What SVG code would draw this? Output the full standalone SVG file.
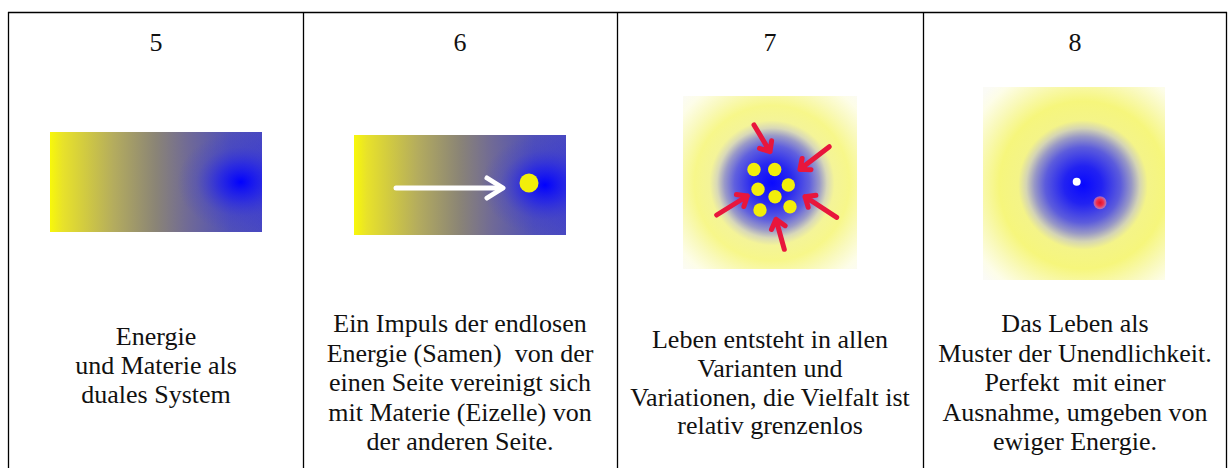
<svg xmlns="http://www.w3.org/2000/svg" width="1231" height="468" viewBox="0 0 1231 468">
  <style>
    .t { font-family: "Liberation Serif", "Times New Roman", serif; font-size: 26px; fill: #111; text-anchor: middle; }
    .grid { stroke: #000; stroke-width: 1.3; fill: none; }
    .red { stroke: #e8163c; stroke-width: 5; fill: none; stroke-linecap: round; stroke-linejoin: round; }
    .dot { fill: #f2ee0a; }
  </style>
  <defs>
    <linearGradient id="lin" x1="0" y1="0" x2="1" y2="0">
      <stop offset="0" stop-color="#f8f80a"/>
      <stop offset="0.06" stop-color="#e8e22a"/>
      <stop offset="0.3" stop-color="#b4ac5e"/>
      <stop offset="0.5" stop-color="#8a8476"/>
      <stop offset="0.65" stop-color="#706a96"/>
      <stop offset="0.85" stop-color="#5050b8"/>
      <stop offset="1" stop-color="#4848c2"/>
    </linearGradient>
    <radialGradient id="blueSpot" gradientUnits="objectBoundingBox" cx="0.9" cy="0.5" r="0.5" fx="0.9" fy="0.5" gradientTransform="translate(0.9,0.5) scale(0.6,1) translate(-0.9,-0.5)">
      <stop offset="0" stop-color="#0000ff" stop-opacity="1"/>
      <stop offset="0.35" stop-color="#1818f4" stop-opacity="0.65"/>
      <stop offset="0.7" stop-color="#3030e0" stop-opacity="0.2"/>
      <stop offset="1" stop-color="#3030e0" stop-opacity="0"/>
    </radialGradient>
    <radialGradient id="glow7" gradientUnits="userSpaceOnUse" cx="772" cy="183" r="125">
      <stop offset="0" stop-color="#0a0aff"/>
      <stop offset="0.16" stop-color="#2828f0"/>
      <stop offset="0.3" stop-color="#6060de"/>
      <stop offset="0.38" stop-color="#9a9ac8"/>
      <stop offset="0.44" stop-color="#d8d8b8"/>
      <stop offset="0.5" stop-color="#f4f498"/>
      <stop offset="0.62" stop-color="#f7f78a"/>
      <stop offset="0.76" stop-color="#f9f9bc"/>
      <stop offset="0.9" stop-color="#fdfde8"/>
      <stop offset="1" stop-color="#fbfbf6"/>
    </radialGradient>
    <radialGradient id="glow8" gradientUnits="userSpaceOnUse" cx="1083" cy="185" r="135">
      <stop offset="0" stop-color="#0808ff"/>
      <stop offset="0.14" stop-color="#2222f2"/>
      <stop offset="0.28" stop-color="#5c5cdc"/>
      <stop offset="0.36" stop-color="#9898c6"/>
      <stop offset="0.42" stop-color="#d4d4b4"/>
      <stop offset="0.48" stop-color="#f4f488"/>
      <stop offset="0.62" stop-color="#f6f67c"/>
      <stop offset="0.78" stop-color="#f9f9b8"/>
      <stop offset="0.92" stop-color="#fdfde8"/>
      <stop offset="1" stop-color="#fbfbf6"/>
    </radialGradient>
    <radialGradient id="redDot">
      <stop offset="0" stop-color="#e0102a"/>
      <stop offset="0.55" stop-color="#f03050"/>
      <stop offset="1" stop-color="#f890a0" stop-opacity="0.6"/>
    </radialGradient>
  </defs>

  <g id="table" class="grid">
    <line x1="8" y1="12.5" x2="1227" y2="12.5"/>
    <line x1="8.5" y1="12" x2="8.5" y2="468"/>
    <line x1="303.5" y1="12" x2="303.5" y2="468"/>
    <line x1="617.5" y1="12" x2="617.5" y2="468"/>
    <line x1="923.5" y1="12" x2="923.5" y2="468"/>
    <line x1="1226.5" y1="12" x2="1226.5" y2="468"/>
  </g>

  <g id="cell5">
    <text class="t" x="156" y="51">5</text>
    <rect x="50" y="132" width="212" height="100" fill="url(#lin)"/>
    <rect x="50" y="132" width="212" height="100" fill="url(#blueSpot)"/>
    <text class="t" x="156" y="345">Energie</text>
    <text class="t" x="156" y="374">und Materie als</text>
    <text class="t" x="156" y="403">duales System</text>
  </g>

  <g id="cell6">
    <text class="t" x="460" y="51">6</text>
    <rect x="354" y="135" width="212" height="100" fill="url(#lin)"/>
    <rect x="354" y="135" width="212" height="100" fill="url(#blueSpot)"/>
    <g stroke="#ffffff" stroke-width="5" stroke-linecap="round" stroke-linejoin="round" fill="none">
      <line x1="396" y1="188" x2="502" y2="188"/>
      <polyline points="487,178 503,188 487,198"/>
    </g>
    <circle class="dot" cx="529" cy="183" r="9.5"/>
    <text class="t" x="460" y="332">Ein Impuls der endlosen</text>
    <text class="t" x="460" y="361.5" xml:space="preserve">Energie (Samen)  von der</text>
    <text class="t" x="460" y="391">einen Seite vereinigt sich</text>
    <text class="t" x="460" y="420.5">mit Materie (Eizelle) von</text>
    <text class="t" x="460" y="450">der anderen Seite.</text>
  </g>

  <g id="cell7">
    <text class="t" x="770" y="51">7</text>
    <rect x="683" y="96" width="174" height="173" fill="url(#glow7)"/>
    <g>
      <circle class="dot" cx="754" cy="169.5" r="6.7"/>
      <circle class="dot" cx="774.7" cy="169.5" r="6.7"/>
      <circle class="dot" cx="758" cy="189.3" r="6.7"/>
      <circle class="dot" cx="788.3" cy="185" r="6.7"/>
      <circle class="dot" cx="775" cy="196.7" r="6.7"/>
      <circle class="dot" cx="760" cy="210" r="6.7"/>
      <circle class="dot" cx="790" cy="206.7" r="6.7"/>
    </g>
    <g class="red">
      <path d="M754,125 L770,151.7 M771.6,140.8 L770,151.7 L759.5,148.4"/>
      <path d="M829.3,146.7 L800,169.3 M811,169.7 L800,169.3 L802.1,158.5"/>
      <path d="M716.7,215 L747.3,196 M736.4,194.6 L747.3,196 L743.9,206.5"/>
      <path d="M836.7,217.3 L805,196.7 M808.2,207.3 L805,196.7 L815.9,195.3"/>
      <path d="M784.3,249.3 L776,219.3 M771.5,229.4 L776,219.3 L785.1,225.7"/>
    </g>
    <text class="t" x="770" y="348">Leben entsteht in allen</text>
    <text class="t" x="770" y="377">Varianten und</text>
    <text class="t" x="770" y="406">Variationen, die Vielfalt ist</text>
    <text class="t" x="770" y="434">relativ grenzenlos</text>
  </g>

  <g id="cell8">
    <text class="t" x="1075" y="51">8</text>
    <rect x="983" y="87" width="182" height="193" fill="url(#glow8)"/>
    <circle cx="1076.7" cy="181.7" r="4" fill="#ffffff"/>
    <circle cx="1100" cy="202.7" r="6.5" fill="url(#redDot)"/>
    <text class="t" x="1075" y="332">Das Leben als</text>
    <text class="t" x="1075" y="361.5">Muster der Unendlichkeit.</text>
    <text class="t" x="1075" y="391" xml:space="preserve">Perfekt  mit einer</text>
    <text class="t" x="1075" y="420.5">Ausnahme, umgeben von</text>
    <text class="t" x="1075" y="450">ewiger Energie.</text>
  </g>
</svg>
